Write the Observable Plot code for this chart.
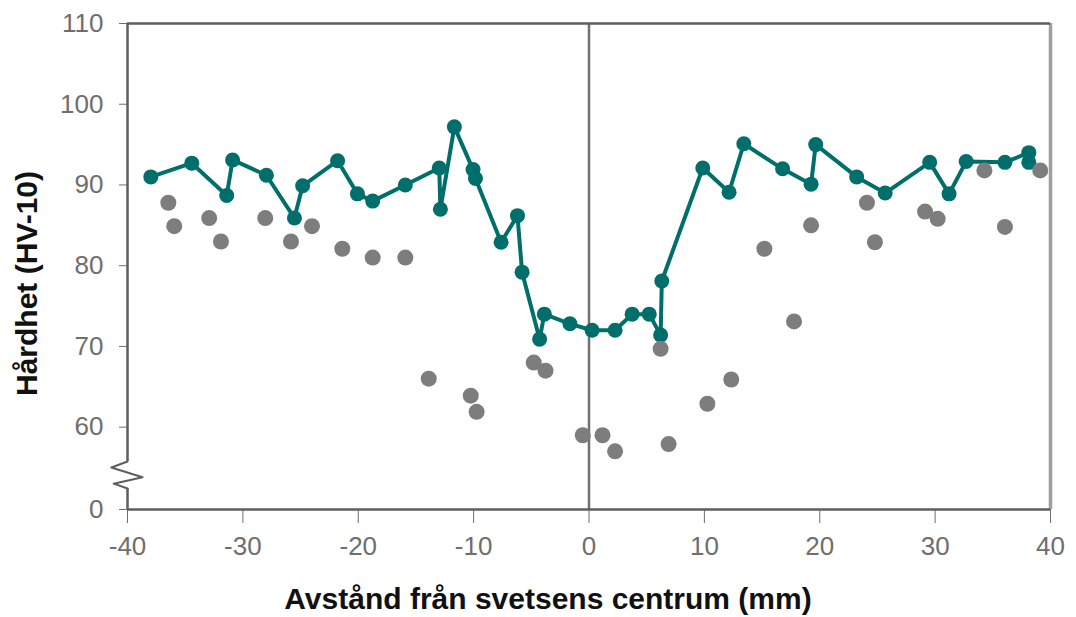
<!DOCTYPE html>
<html>
<head>
<meta charset="utf-8">
<script src="https://cdn.jsdelivr.net/npm/d3@7"></script>
<script src="https://cdn.jsdelivr.net/npm/@observablehq/plot@0.6"></script>
<style>
  html, body { margin: 0; padding: 0; background: #fff; }
  #chart { width: 1076px; height: 617px; }
</style>
</head>
<body>
<div id="chart"></div>
<script>
// ---- data ----
const xTicks = [-40, -30, -20, -10, 0, 10, 20, 30, 40];
// y axis is broken: the "0" tick sits just below the break, at axis position ZERO_POS
const ZERO_POS = 49.8;
const yTicks = [ZERO_POS, 60, 70, 80, 90, 100, 110];
const yTickLabels = ["0", "60", "70", "80", "90", "100", "110"];

// teal series (connected line with markers)
const tealX = [-37.98, -34.43, -31.40, -30.89, -27.96, -25.53, -24.82, -21.79, -20.07, -18.75, -15.92, -12.98, -12.88, -11.67, -10.05, -9.84, -7.62, -6.20, -5.80, -4.28, -3.87, -1.65, 0.27, 2.26, 3.74, 5.22, 6.21, 6.31, 9.86, 12.14, 13.42, 16.78, 19.25, 19.65, 23.20, 25.67, 29.53, 31.21, 32.69, 36.05, 38.12, 38.12];
const tealY = [91, 92.7, 88.7, 93.1, 91.2, 85.9, 89.9, 93.0, 88.9, 88.0, 90.0, 92.1, 87.0, 97.2, 91.9, 90.8, 82.9, 86.2, 79.2, 70.9, 74.0, 72.8, 72.0, 72.0, 74.0, 74.0, 71.4, 78.1, 92.1, 89.1, 95.1, 92.0, 90.1, 95.0, 91.0, 89.0, 92.8, 88.9, 92.9, 92.8, 94.0, 92.8];

// grey series (markers only)
const grayX = [-36.46, -35.95, -32.92, -31.90, -28.06, -25.83, -24.01, -21.38, -18.75, -15.92, -13.89, -10.25, -9.74, -4.79, -3.77, -0.54, 1.17, 2.26, 6.21, 6.90, 10.26, 12.33, 15.20, 17.77, 19.25, 24.09, 24.78, 29.13, 30.22, 34.27, 36.05, 39.11];
const grayY = [87.8, 84.9, 85.9, 83.0, 85.9, 83.0, 84.9, 82.1, 81.0, 81.0, 66.0, 63.9, 61.9, 68.0, 67.0, 59.0, 59.0, 57.0, 69.7, 57.9, 62.9, 65.9, 82.1, 73.1, 85.0, 87.8, 82.9, 86.7, 85.8, 91.8, 84.8, 91.8];

// y-axis line pieces and the break zigzag (in axis units)
const axisSegments = [{y1: 55.75, y2: 110}, {y1: ZERO_POS, y2: 52.4}];
const breakX = [-40, -41.4, -38.7, -41.2, -40];
const breakY = [55.75, 55.0, 53.8, 53.0, 52.4];

const xLabel = "Avstånd från svetsens centrum (mm)";
const yLabel = "Hårdhet (HV-10)";

// ---- build ----
const teal = tealX.map((x, i) => ({x, y: tealY[i]}));
const gray = grayX.map((x, i) => ({x, y: grayY[i]}));
const brk = breakX.map((x, i) => ({x, y: breakY[i]}));

const TEAL = "#006f6b";
const GREY = "#7d7d7d";
const AXIS = "#5e5e5e";
const FONT = "'Liberation Sans', Arial, Helvetica, sans-serif";

const chart = Plot.plot({
  width: 1076,
  height: 617,
  marginLeft: 127,
  marginRight: 26,
  marginTop: 23,
  marginBottom: 108,
  style: {fontFamily: FONT, fontSize: "26px", color: "#6e6e6e", background: "#fff"},
  x: {
    domain: [-40, 40],
    ticks: xTicks,
    tickSize: 14,
    tickPadding: 13,
    tickFormat: d => String(d),
    label: null
  },
  y: {
    domain: [ZERO_POS, 110],
    ticks: yTicks,
    tickSize: 8,
    tickPadding: 16,
    tickFormat: d => yTickLabels[yTicks.indexOf(d)] ?? String(d),
    label: null
  },
  marks: [
    // frame pieces
    Plot.ruleX([40], {y1: ZERO_POS, y2: 110, stroke: "#9e9e9e", strokeWidth: 3.5}),
    Plot.ruleX([0], {y1: ZERO_POS, y2: 110, stroke: "#707070", strokeWidth: 2.5}),
    Plot.ruleY([110], {x1: -40, x2: 40, stroke: AXIS, strokeWidth: 2.5}),
    Plot.ruleY([ZERO_POS], {x1: -40, x2: 40, stroke: AXIS, strokeWidth: 2.5}),
    Plot.ruleX(axisSegments, {x: () => -40, y1: "y1", y2: "y2", stroke: AXIS, strokeWidth: 2.5}),
    Plot.line(brk, {x: "x", y: "y", stroke: AXIS, strokeWidth: 2}),
    // teal series
    Plot.line(teal, {x: "x", y: "y", stroke: TEAL, strokeWidth: 4}),
    Plot.dot(teal, {x: "x", y: "y", r: 7.5, fill: TEAL, stroke: "none"}),
    // grey series
    Plot.dot(gray, {x: "x", y: "y", r: 8, fill: GREY, stroke: "none"}),
    // axis titles
    Plot.text([xLabel], {text: d => d, frameAnchor: "bottom", dx: -41, dy: 90,
      fontSize: 30, fontWeight: "bold", fill: "#111", textAnchor: "middle", lineAnchor: "middle"}),
    Plot.text([yLabel], {text: d => d, frameAnchor: "left", dx: -100, dy: 17, rotate: -90,
      fontSize: 30, fontWeight: "bold", fill: "#111", textAnchor: "middle", lineAnchor: "middle"})
  ]
});

document.getElementById("chart").appendChild(chart);
</script>
</body>
</html>
